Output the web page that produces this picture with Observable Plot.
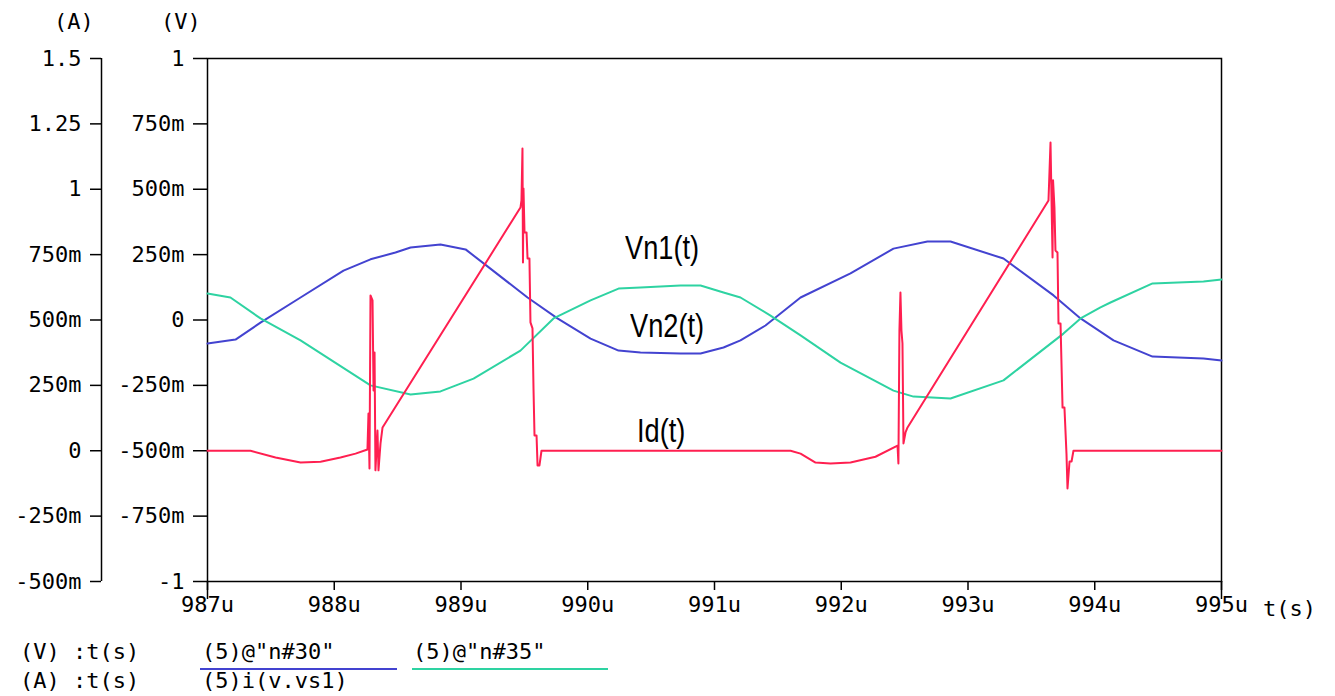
<!DOCTYPE html>
<html>
<head>
<meta charset="utf-8">
<script src="https://cdn.jsdelivr.net/npm/d3@7"></script>
<script src="https://cdn.jsdelivr.net/npm/@observablehq/plot@0.6"></script>
<style>
  html, body { margin: 0; padding: 0; background: #fff; }
  #wrap { position: relative; width: 1335px; height: 696px; overflow: hidden; }
  #wrap svg { position: absolute; left: 0; top: 0; }
  .mono { position: absolute; font-family: "DejaVu Sans Mono", monospace; font-size: 22px; line-height: 22px; color: #000; white-space: pre; }
  .ann { position: absolute; font-family: "Liberation Sans", Arial, sans-serif; font-size: 34px; line-height: 34px; color: #000; white-space: pre; transform: scaleX(0.8); transform-origin: left top; }
  .swatch { position: absolute; height: 2px; }
</style>
</head>
<body>
<div id="wrap"></div>
<script>
// ---- data (time in µs) ----
const xTicks = [987, 988, 989, 990, 991, 992, 993, 994, 995];
const xTickLabels = ["987u", "988u", "989u", "990u", "991u", "992u", "993u", "994u", "995u"];
const vTicks = [-1, -0.75, -0.5, -0.25, 0, 0.25, 0.5, 0.75, 1];
const vTickLabels = ["-1", "-750m", "-500m", "-250m", "0", "250m", "500m", "750m", "1"];
const aTickLabels = ["-500m", "-250m", "0", "250m", "500m", "750m", "1", "1.25", "1.5"];
const aOffset = 0.5; // A axis value = V axis value + 0.5

// Vn1(t) — (5)@"n#30" (V)
const tVn1 = [987.000, 987.221, 987.418, 987.734, 988.073, 988.286, 988.483, 988.602, 988.838, 989.036, 989.209, 989.525, 989.761,
  990.022, 990.243, 990.416, 990.732, 990.890, 991.071, 991.205, 991.402, 991.679, 992.073, 992.412, 992.680, 992.862,
  993.280, 993.675, 993.888, 994.148, 994.456, 994.858, 995.000];
const vn1 = [-0.090, -0.075, -0.010, 0.086, 0.189, 0.232, 0.258, 0.277, 0.289, 0.270, 0.205, 0.086, 0.006,
  -0.071, -0.117, -0.124, -0.128, -0.128, -0.105, -0.078, -0.021, 0.086, 0.178, 0.273, 0.300, 0.300,
  0.235, 0.094, 0.006, -0.078, -0.140, -0.147, -0.155];

// Vn2(t) — (5)@"n#35" (V)
const tVn2 = [987.000, 987.181, 987.418, 987.734, 988.286, 988.602, 988.838, 989.099, 989.469, 989.730, 990.022, 990.243,
  990.416, 990.732, 990.890, 991.071, 991.205, 991.442, 991.679, 991.994, 992.412, 992.570, 992.862, 993.280, 993.753,
  993.888, 994.045, 994.124, 994.456, 994.858, 995.000];
const vn2 = [0.101, 0.086, 0.006, -0.078, -0.250, -0.285, -0.273, -0.224, -0.117, 0.006, 0.075, 0.120,
  0.124, 0.132, 0.132, 0.105, 0.086, 0.017, -0.059, -0.163, -0.270, -0.293, -0.300, -0.231, -0.052,
  0.006, 0.048, 0.067, 0.140, 0.147, 0.155];

// Id(t) — (5)i(v.vs1) (A)
const tId = [987.000, 987.339, 987.537, 987.734, 987.892, 988.049, 988.168, 988.262, 988.270, 988.278, 988.286, 988.302,
  988.310, 988.318, 988.325, 988.341, 988.349, 988.365, 988.381, 989.469, 989.477, 989.485, 989.489, 989.493, 989.501,
  989.517, 989.525, 989.540, 989.548, 989.564, 989.572, 989.580, 989.596, 989.604, 989.619, 989.635, 989.667,
  991.600, 991.679, 991.797, 991.915, 992.073, 992.270, 992.444, 992.451, 992.459, 992.467, 992.475, 992.483, 992.491,
  992.507, 992.523, 993.635, 993.651, 993.659, 993.667, 993.671, 993.682, 993.690, 993.706, 993.714, 993.730, 993.746,
  993.761, 993.777, 993.785, 993.801, 993.817, 993.832, 995.000];
const id = [0, 0, -0.026, -0.045, -0.042, -0.026, -0.011, 0.005, 0.142, -0.068, 0.594, 0.575,
  0.230, 0.376, -0.075, 0.077, -0.075, 0.028, 0.089, 0.930, 0.957, 1.156, 0.720, 1.003, 0.835,
  0.835, 0.735, 0.735, 0.491, 0.468, 0.238, 0.058, 0.058, -0.056, -0.056, 0, 0,
  0, -0.011, -0.045, -0.049, -0.045, -0.023, 0.020, -0.049, 0.460, 0.605, 0.460, 0.410, 0.028,
  0.070, 0.089, 0.957, 1.179, 0.957, 0.739, 1.034, 0.930, 0.766, 0.758, 0.487, 0.487, 0.165,
  0.165, -0.011, -0.144, -0.041, -0.041, 0, 0];

const colors = { vn1: "#4343d0", vn2: "#2ed3a2", id: "#ff1f50" };

const chart = Plot.plot({
  width: 1335,
  height: 696,
  marginTop: 58,
  marginLeft: 207,
  marginRight: 114,
  marginBottom: 115,
  style: { fontFamily: "DejaVu Sans Mono, monospace", fontSize: "22px", color: "#000", background: "#fff" },
  x: { domain: [987, 995], label: null },
  y: { domain: [-1, 1], label: null },
  marks: [
    Plot.frame({ stroke: "#000", strokeWidth: 1.5 }),
    // V axis
    Plot.axisY(vTicks, { anchor: "left", tickSize: 14, tickPadding: 9, stroke: "#000", strokeWidth: 1.5,
      tickFormat: (d, i) => vTickLabels[i], label: null }),
    // A axis (shifted left)
    Plot.ruleX([987], { y1: -1, y2: 1, dx: -106, stroke: "#000", strokeWidth: 1.5 }),
    Plot.axisY(vTicks, { anchor: "left", dx: -106, tickSize: 11, tickPadding: 9, stroke: "#000", strokeWidth: 1.5,
      tickFormat: (d, i) => aTickLabels[i], label: null }),
    // x axis
    Plot.axisX(xTicks, { anchor: "bottom", tickSize: 9, tickPadding: 6, stroke: "#000", strokeWidth: 1.5,
      tickFormat: (d, i) => xTickLabels[i], label: null }),
    Plot.axisX([xTicks[0], xTicks[xTicks.length - 1]], { anchor: "bottom", tickSize: 18, stroke: "#000", strokeWidth: 1.5,
      tickFormat: () => "", label: null }),
    // traces
    Plot.line(vn1, { x: (d, i) => tVn1[i], y: d => d, stroke: colors.vn1, strokeWidth: 2 }),
    Plot.line(vn2, { x: (d, i) => tVn2[i], y: d => d, stroke: colors.vn2, strokeWidth: 2 }),
    Plot.line(id, { x: (d, i) => tId[i], y: d => d - aOffset, stroke: colors.id, strokeWidth: 2 })
  ]
});

const wrap = document.getElementById("wrap");
wrap.appendChild(chart);

function addText(cls, text, left, top) {
  const el = document.createElement("div");
  el.className = cls;
  el.textContent = text;
  el.style.left = left + "px";
  el.style.top = top + "px";
  wrap.appendChild(el);
  return el;
}
function addSwatch(color, left, top, width) {
  const el = document.createElement("div");
  el.className = "swatch";
  el.style.background = color;
  el.style.left = left + "px";
  el.style.top = top + "px";
  el.style.width = width + "px";
  wrap.appendChild(el);
}

// unit labels
addText("mono", "(A)", 54, 11);
addText("mono", "(V)", 161, 11);
addText("mono", "t(s)", 1263, 598);

// annotations
addText("ann", "Vn1(t)", 625, 230);
addText("ann", "Vn2(t)", 630, 308);
addText("ann", "Id(t)", 637, 413);

// legend
addText("mono", "(V) :t(s)", 20, 641);
addText("mono", "(A) :t(s)", 20, 670);
addText("mono", "(5)@\"n#30\"", 202, 641);
addText("mono", "(5)@\"n#35\"", 413, 641);
addText("mono", "(5)i(v.vs1)", 202, 670);
addSwatch(colors.vn1, 200, 668, 197);
addSwatch(colors.vn2, 412, 668, 196);
</script>
</body>
</html>
